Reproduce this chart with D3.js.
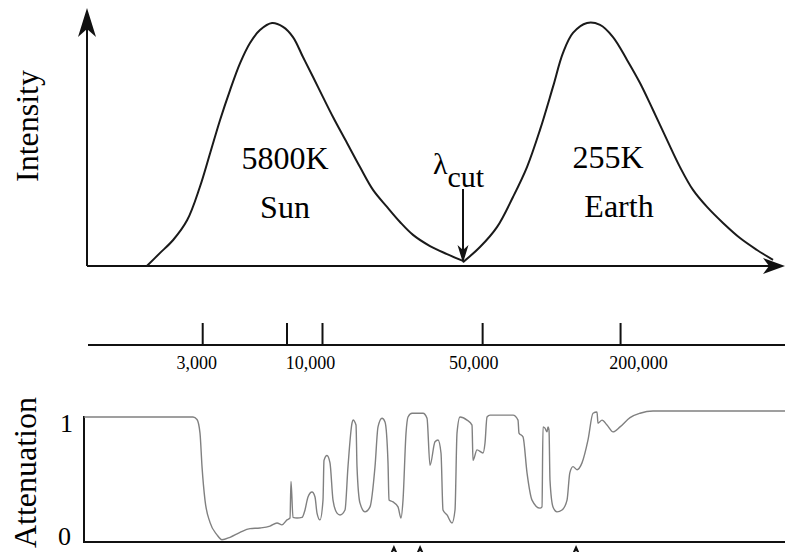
<!DOCTYPE html>
<html>
<head>
<meta charset="utf-8">
<script src="https://cdn.jsdelivr.net/npm/d3@7"></script>
<style>
  html, body { margin: 0; padding: 0; background: #fff; }
  svg { display: block; }
</style>
</head>
<body>
<svg id="chart" width="785" height="552"></svg>
<script>
// ---- Data: wavelengths in Ångström ----
// Sun (5800 K) emission hump, relative intensity
const sunWave = [1720, 1960, 2240, 2580, 2930, 3250, 3590, 3970, 4390, 4850, 5360, 6050, 6760, 7470,
  8260, 9140, 10100, 11170, 12860, 14650, 16700, 19220, 21900, 24960, 29610, 35130, 41250];
const sunIntensity = [0, 0.053, 0.107, 0.189, 0.325, 0.465, 0.601, 0.724, 0.835, 0.918, 0.971, 1, 0.984, 0.942,
  0.86, 0.778, 0.695, 0.613, 0.506, 0.407, 0.313, 0.243, 0.181, 0.128, 0.082, 0.049, 0.021];

// Earth (255 K) emission hump, relative intensity
const earthWave = [41250, 48930, 58040, 68190, 78480, 89430, 101900, 112700, 124600, 143500, 163500, 186300,
  214500, 244400, 278500, 320500, 365300, 416300, 479200, 562900, 667600, 791900, 930400];
const earthIntensity = [0.016, 0.078, 0.16, 0.284, 0.407, 0.56, 0.737, 0.877, 0.959, 1, 0.992, 0.942,
  0.848, 0.753, 0.642, 0.519, 0.407, 0.313, 0.243, 0.177, 0.115, 0.066, 0.025];

// Crossover wavelength between the two humps
const cutWave = 41250;

// Atmospheric attenuation spectrum (0 = transparent, 1 = opaque)
const attWave = [915, 2400, 2735, 2847, 2934, 2994, 3085, 3244, 3481, 3660, 3967, 4386, 4850, 5363, 5930,
  6362, 6690, 7034, 7250, 7323, 7472, 7778, 8179, 8429, 8687, 9044, 9321, 9510, 9801, 10101, 10203, 10515,
  10837, 11170, 11629, 11985, 12600, 12986, 13519, 13655, 14074, 14216, 14651, 15406, 16201, 17037, 17559,
  18279, 18838, 19415, 19611, 20416, 21468, 22126, 22575, 23267, 23739, 24714, 27597, 28731, 29610, 31136,
  32089, 33069, 33741, 35126, 36937, 38069, 38842, 40030, 42946, 45159, 45615, 47487, 50439, 51463, 52508,
  54116, 68194, 71700, 72424, 75401, 78501, 82553, 89448, 91264, 92186, 94058, 95968, 96937, 97917, 98906,
  101934, 106113, 111593, 117353, 120703, 124627, 129742, 136424, 144907, 152381, 158609, 160213, 166824,
  175422, 186324, 199906, 221052, 244432, 278500, 1049580];
const attValue = [1.00, 1.00, 1.00, 0.98, 0.87, 0.60, 0.33, 0.15, 0.05, 0.01, 0.03, 0.07, 0.10, 0.105, 0.12,
  0.145, 0.13, 0.17, 0.185, 0.48, 0.19, 0.185, 0.19, 0.25, 0.355, 0.395, 0.355, 0.225, 0.17, 0.33, 0.65, 0.69,
  0.63, 0.33, 0.225, 0.21, 0.25, 0.60, 0.95, 0.976, 0.935, 0.60, 0.305, 0.235, 0.275, 0.60, 0.92,
  0.99, 0.96, 0.63, 0.33, 0.315, 0.275, 0.185, 0.33, 0.87, 1.00, 1.03, 1.03, 0.99, 0.61, 0.80,
  0.815, 0.71, 0.25, 0.21, 0.145, 0.25, 0.87, 1.00, 0.975, 0.935, 0.65, 0.735, 0.71, 0.79, 1.00,
  1.015, 1.015, 0.975, 0.87, 0.84, 0.55, 0.33, 0.265, 0.275, 0.92, 0.91, 0.88, 0.92, 0.895, 0.49,
  0.275, 0.235, 0.25, 0.33, 0.55, 0.60, 0.575, 0.63, 0.815, 1.03, 1.04, 0.95, 0.975,
  0.935, 0.88, 0.92, 0.995, 1.03, 1.048, 1.048];

// Wavelength axis
const tickValues = [3000, 7000, 10000, 50000, 200000];
const tickLabels = ["3,000", "", "10,000", "50,000", "200,000"];
const tickLabelShift = [-6, 0, -12, -9, 18];

// Wavelengths flagged by small arrows along the lower edge
const markerWave = [20600, 26800, 128500];

// ---- Layout ----
const svg = d3.select("#chart");
const serif = "'Liberation Serif', 'DejaVu Serif', serif";
const x = d3.scaleLog().domain([1000, 1e6]).range([92.9, 780.2]);
const yTop = d3.scaleLinear().domain([0, 1]).range([266, 23]);
const yAtt = d3.scaleLinear().domain([0, 1]).range([541, 417]);

const ink = "#111";

// Barbed arrowhead pointing along angle (deg, 0 = right)
function arrowHead(tx, ty, len, half, notch, angleDeg) {
  const a = angleDeg * Math.PI / 180;
  const ux = Math.cos(a), uy = Math.sin(a);
  const px = -uy, py = ux;
  const bx = tx - ux * len, by = ty - uy * len;
  const nx = tx - ux * notch, ny = ty - uy * notch;
  return `M${tx},${ty}L${bx + px * half},${by + py * half}L${nx},${ny}L${bx - px * half},${by - py * half}Z`;
}

function label(g, tx, ty, str, size, anchor) {
  return g.append("text").attr("x", tx).attr("y", ty)
    .attr("font-family", serif).attr("font-size", size)
    .attr("text-anchor", anchor || "middle").attr("fill", "#000").text(str);
}

// ---- Upper panel: emission spectra ----
const upper = svg.append("g");
upper.append("line").attr("x1", 87).attr("x2", 87).attr("y1", 266).attr("y2", 20)
  .attr("stroke", ink).attr("stroke-width", 2);
upper.append("path").attr("d", arrowHead(87, 8, 29, 9, 21, -90)).attr("fill", ink);
upper.append("line").attr("x1", 87).attr("x2", 775).attr("y1", 266).attr("y2", 266)
  .attr("stroke", ink).attr("stroke-width", 2.2);
upper.append("path").attr("d", arrowHead(785, 266, 22, 8, 16, 0)).attr("fill", ink);

const humpLine = d3.line().x(d => x(d[0])).y(d => yTop(d[1])).curve(d3.curveCatmullRom.alpha(0.5));
upper.append("path").datum(d3.zip(sunWave, sunIntensity)).attr("d", humpLine)
  .attr("fill", "none").attr("stroke", "#1a1a1a").attr("stroke-width", 2);
upper.append("path").datum(d3.zip(earthWave, earthIntensity)).attr("d", humpLine)
  .attr("fill", "none").attr("stroke", "#1a1a1a").attr("stroke-width", 2);

// λcut arrow
const cx = x(cutWave);
upper.append("line").attr("x1", cx).attr("x2", cx).attr("y1", 189).attr("y2", 254)
  .attr("stroke", ink).attr("stroke-width", 2);
upper.append("path").attr("d", arrowHead(cx, 263, 18, 5.5, 13, 90)).attr("fill", ink);
const lam = label(upper, 433, 174, null, 30, "start");
lam.append("tspan").text("λ");
lam.append("tspan").attr("dy", 13).text("cut");

// hump annotations
label(upper, 285, 169, "5800K", 32);
label(upper, 285, 218, "Sun", 32);
label(upper, 608, 168, "255K", 32);
label(upper, 619, 217, "Earth", 32);

label(upper, 0, 0, "Intensity", 32).attr("transform", "translate(38,126) rotate(-90)");

// ---- Wavelength scale ----
const mid = svg.append("g").attr("transform", "translate(0,345)");
mid.append("line").attr("x1", 88).attr("x2", 785).attr("y1", 0).attr("y2", 0)
  .attr("stroke", ink).attr("stroke-width", 2);
const axis = d3.axisBottom(x).tickValues(tickValues).tickSize(-22).tickPadding(11)
  .tickFormat((d, i) => tickLabels[i]);
const ag = mid.append("g").call(axis).attr("font-family", serif);
ag.select(".domain").remove();
ag.selectAll(".tick line").attr("stroke", ink).attr("stroke-width", 2);
ag.selectAll(".tick text")
  .attr("font-family", serif).attr("font-size", 18).attr("fill", "#000")
  .attr("dx", (d, i) => tickLabelShift[i]);

// ---- Lower panel: attenuation ----
const lower = svg.append("g");
lower.append("line").attr("x1", 84).attr("x2", 84).attr("y1", 416).attr("y2", 542)
  .attr("stroke", ink).attr("stroke-width", 2);
lower.append("line").attr("x1", 83).attr("x2", 785).attr("y1", 542).attr("y2", 542)
  .attr("stroke", ink).attr("stroke-width", 2.2);

const attLine = d3.line().x(d => x(d[0])).y(d => yAtt(d[1])).curve(d3.curveMonotoneX);
lower.append("path").datum(d3.zip(attWave, attValue)).attr("d", attLine)
  .attr("fill", "none").attr("stroke", "#808080").attr("stroke-width", 1.4);

label(lower, 73, 432, "1", 26, "end");
label(lower, 71, 545, "0", 26, "end");
label(lower, 0, 0, "Attenuation", 32, "end").attr("transform", "translate(36,397) rotate(-90)");

lower.selectAll("path.marker").data(markerWave).join("path").attr("class", "marker")
  .attr("d", d => arrowHead(x(d), 545, 9, 4, 6, -90)).attr("fill", ink);
</script>
</body>
</html>
